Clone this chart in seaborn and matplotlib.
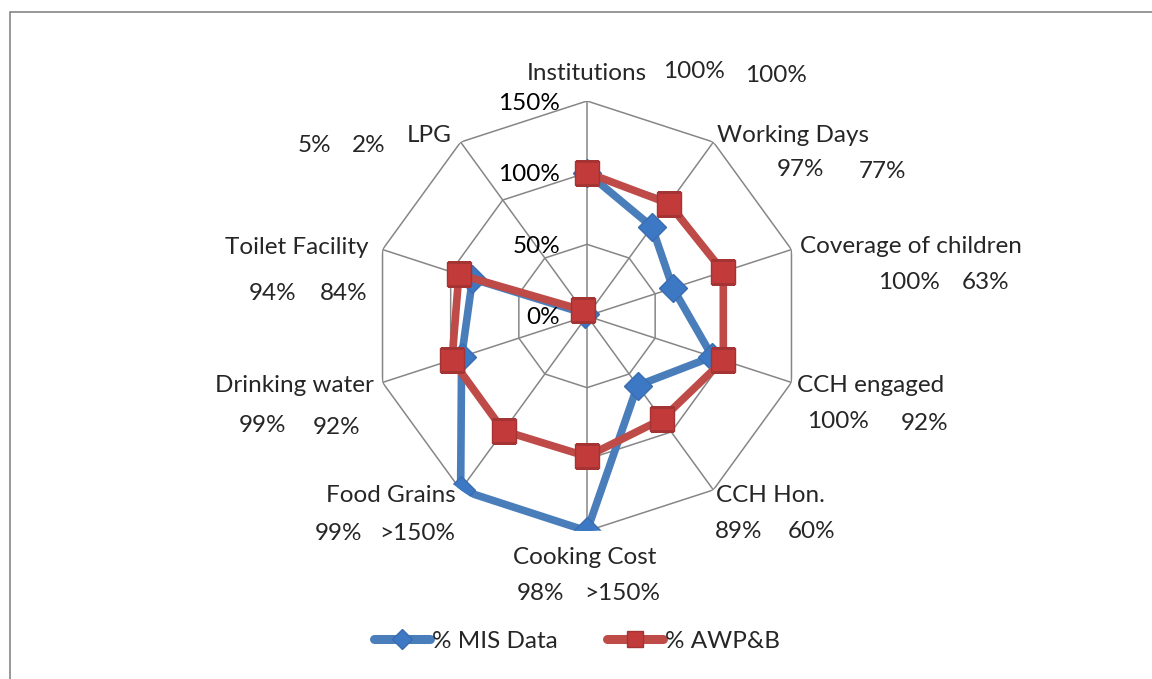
import numpy as np
import pandas as pd
import matplotlib
matplotlib.use("Agg")
import matplotlib.pyplot as plt
from matplotlib.patches import Rectangle
from matplotlib.lines import Line2D
import seaborn as sns

sns.set_style("white")
plt.rcParams["font.family"] = ["Lato", "DejaVu Sans"]

# data
categories = ["Institutions", "Working Days", "Coverage of children", "CCH engaged",
              "CCH Hon.", "Cooking Cost", "Food Grains", "Drinking water",
              "Toilet Facility", "LPG"]
mis_values = [100, 77, 63, 92, 60, 150, 150, 92, 84, 2]
awpb_values = [100, 97, 100, 100, 89, 98, 99, 99, 94, 5]
awpb_labels = ["100%", "97%", "100%", "100%", "89%", "98%", "99%", "99%", "94%", "5%"]
mis_labels = ["100%", "77%", "63%", "92%", "60%", ">150%", ">150%", "92%", "84%", "2%"]
radial_ticks = [0, 50, 100, 150]
radial_labels = ["0%", "50%", "100%", "150%"]

# label layout in pixels: (name x, y), (first value x, y), (second value x, y)
label_pos = [
    ((587, 74), (694, 72), (776, 75)),
    ((793, 135), (801, 170), (882, 172)),
    ((911, 246), (909, 282), (986, 282)),
    ((871, 385), (838, 421), (925, 423)),
    ((770, 496), (739, 531), (812, 531)),
    ((585, 557), (540, 594), (622, 594)),
    ((391, 496), (339, 533), (417, 533)),
    ((294, 385), (263, 425), (337, 427)),
    ((297, 247), (273, 293), (344, 293)),
    ((429, 136), (314, 145), (369, 145)),
]

W, H = 1152, 679
FS = 17.5
fig = plt.figure(figsize=(W / 100, H / 100), dpi=100)

cx, cy, rad = 587, 316, 215
ax = fig.add_axes([(cx - rad) / W, (H - cy - rad) / H, 2 * rad / W, 2 * rad / H],
                  projection="polar")
ax.set_theta_zero_location("N")
ax.set_theta_direction(-1)
ax.set_ylim(0, 150)
ax.grid(False)
ax.set_xticks([])
ax.set_yticks([])
ax.spines["polar"].set_visible(False)
ax.set_facecolor("none")

n = len(categories)
angles = np.linspace(0, 2 * np.pi, n, endpoint=False)
closed = np.append(angles, angles[0])

grid_col = "#868686"
for r in radial_ticks[1:]:
    ax.plot(closed, [r] * (n + 1), color=grid_col, lw=1.1, zorder=1)
for a in angles:
    ax.plot([a, a], [0, 150], color=grid_col, lw=1.1, zorder=1)

df = pd.DataFrame({
    "theta": np.concatenate([closed, closed]),
    "value": mis_values + mis_values[:1] + awpb_values + awpb_values[:1],
    "series": ["% MIS Data"] * (n + 1) + ["% AWP&B"] * (n + 1),
})

blue, blue_fill, blue_edge = "#4A7EBB", "#3C78C3", "#3A6DAF"
red, red_fill, red_edge = "#BE4B48", "#C23A3A", "#A33433"

sns.lineplot(data=df[df.series == "% MIS Data"], x="theta", y="value", sort=False,
             ax=ax, color=blue, lw=5.5, marker="D", markersize=14,
             markerfacecolor=blue_fill, markeredgecolor=blue_edge, markeredgewidth=1,
             legend=False, zorder=3)
sns.lineplot(data=df[df.series == "% AWP&B"], x="theta", y="value", sort=False,
             ax=ax, color=red, lw=5.5, marker="s", markersize=17,
             markerfacecolor=red_fill, markeredgecolor=red_edge, markeredgewidth=1,
             legend=False, zorder=4)
ax.set_xlabel("")
ax.set_ylabel("")
ax.set_ylim(0, 150)

for r, lbl in zip(radial_ticks, radial_labels):
    ax.annotate(lbl, xy=(0, r), xytext=(-27, -2), textcoords="offset pixels",
                ha="right", va="center", fontsize=FS, color="black")

for name, a_lbl, m_lbl, pos in zip(categories, awpb_labels, mis_labels, label_pos):
    for txt, (px, py) in zip([name, a_lbl, m_lbl], pos):
        fig.text(px / W, 1 - py / H, txt, ha="center", va="center", fontsize=FS)

handles = [
    Line2D([], [], color=blue, lw=6.5, solid_capstyle="round", marker="D",
           markersize=10, markerfacecolor=blue_fill, markeredgecolor=blue_edge),
    Line2D([], [], color=red, lw=6.5, solid_capstyle="round", marker="s",
           markersize=12, markerfacecolor=red_fill, markeredgecolor=red_edge),
]
fig.legend(handles, ["% MIS Data", "% AWP&B"], loc="center",
           bbox_to_anchor=(577 / W, 1 - 641 / H), ncol=2, frameon=False,
           fontsize=FS, handlelength=2.3, handletextpad=0.1, columnspacing=2.0)

fig.patches.append(Rectangle((9.5 / W, -0.1), 2, 1 - 11.5 / H + 0.1,
                             transform=fig.transFigure, fill=False,
                             edgecolor=grid_col, lw=1.2))

fig.savefig("out.png", dpi=100)
